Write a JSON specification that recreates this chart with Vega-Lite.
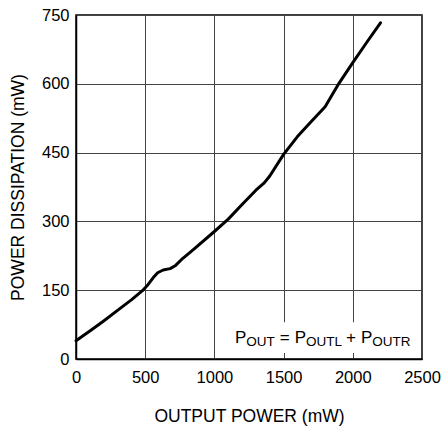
{
  "$schema": "https://vega.github.io/schema/vega-lite/v6.json",
  "autosize": "none",
  "width": 346,
  "height": 344,
  "padding": {"left": 76, "top": 15, "right": 19, "bottom": 69},
  "background": "white",
  "config": {
    "font": "Liberation Sans",
    "view": {"stroke": "black", "strokeWidth": 1.5},
    "axis": {
      "grid": true,
      "gridColor": "#444",
      "gridWidth": 1,
      "gridOpacity": 1,
      "ticks": false,
      "domainColor": "black",
      "domainWidth": 1.5,
      "labelColor": "black",
      "titleColor": "black",
      "labelFont": "Liberation Sans",
      "titleFont": "Liberation Sans",
      "labelFontSize": 16.5,
      "titleFontSize": 17.5,
      "titleFontWeight": "normal"
    }
  },
  "datasets": {
    "curve": [
      {"p": 0, "d": 40},
      {"p": 100, "d": 61},
      {"p": 200, "d": 83},
      {"p": 300, "d": 106},
      {"p": 400, "d": 129},
      {"p": 480, "d": 149},
      {"p": 520, "d": 162},
      {"p": 560, "d": 178},
      {"p": 590, "d": 188},
      {"p": 630, "d": 194},
      {"p": 680, "d": 197},
      {"p": 720, "d": 204},
      {"p": 770, "d": 219},
      {"p": 850, "d": 239},
      {"p": 1000, "d": 278},
      {"p": 1100, "d": 305},
      {"p": 1200, "d": 337},
      {"p": 1300, "d": 368},
      {"p": 1360, "d": 384},
      {"p": 1400, "d": 399},
      {"p": 1500, "d": 446},
      {"p": 1600, "d": 485},
      {"p": 1700, "d": 518},
      {"p": 1800, "d": 550},
      {"p": 1900, "d": 601},
      {"p": 2000, "d": 646},
      {"p": 2100, "d": 690},
      {"p": 2200, "d": 733}
    ],
    "box": [{"x1": 1115, "x2": 2490, "y1": 13, "y2": 80}],
    "big": [
      {"x": 1149, "y": 33.8, "t": "P"},
      {"x": 1473, "y": 33.8, "t": "="},
      {"x": 1580, "y": 33.8, "t": "P"},
      {"x": 1951, "y": 33.8, "t": "+"},
      {"x": 2059, "y": 33.8, "t": "P"}
    ],
    "small": [
      {"x": 1230, "y": 28.3, "t": "OUT"},
      {"x": 1662, "y": 28.3, "t": "OUTL"},
      {"x": 2140, "y": 28.3, "t": "OUTR"}
    ]
  },
  "layer": [
    {
      "data": {"name": "curve"},
      "mark": {"type": "line", "color": "black", "strokeWidth": 3, "strokeCap": "round", "strokeJoin": "round"},
      "encoding": {
        "x": {
          "field": "p", "type": "quantitative",
          "scale": {"domain": [0, 2500], "nice": false, "zero": false},
          "axis": {"values": [0, 500, 1000, 1500, 2000, 2500], "format": "d", "title": "OUTPUT POWER (mW)", "labelPadding": 10, "titlePadding": 22, "labelFlush": false}
        },
        "y": {
          "field": "d", "type": "quantitative",
          "scale": {"domain": [0, 750], "nice": false},
          "axis": {"values": [0, 150, 300, 450, 600, 750], "format": "d", "title": "POWER DISSIPATION (mW)", "labelPadding": 7, "titlePadding": 14, "labelFlush": false}
        }
      }
    },
    {
      "data": {"name": "box"},
      "mark": {"type": "rect", "fill": "white", "stroke": null},
      "encoding": {
        "x": {"field": "x1", "type": "quantitative"},
        "x2": {"field": "x2"},
        "y": {"field": "y1", "type": "quantitative"},
        "y2": {"field": "y2"}
      }
    },
    {
      "data": {"name": "big"},
      "mark": {"type": "text", "align": "left", "baseline": "alphabetic", "fontSize": 17, "color": "black"},
      "encoding": {
        "x": {"field": "x", "type": "quantitative"},
        "y": {"field": "y", "type": "quantitative"},
        "text": {"field": "t"}
      }
    },
    {
      "data": {"name": "small"},
      "mark": {"type": "text", "align": "left", "baseline": "alphabetic", "fontSize": 13.5, "color": "black"},
      "encoding": {
        "x": {"field": "x", "type": "quantitative"},
        "y": {"field": "y", "type": "quantitative"},
        "text": {"field": "t"}
      }
    }
  ]
}
